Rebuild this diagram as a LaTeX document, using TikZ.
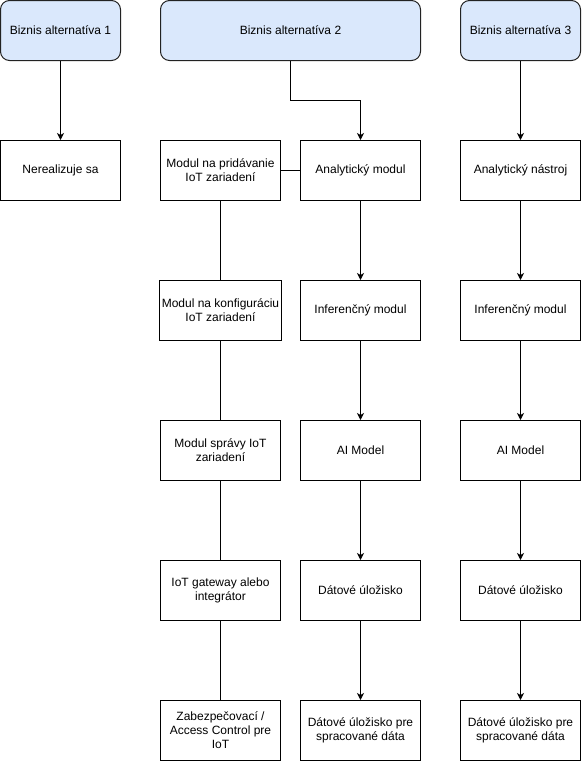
\documentclass[tikz,border=0pt]{standalone}
\usepackage{fontspec}
\setmainfont{Liberation Sans}
\usetikzlibrary{arrows.meta}
\definecolor{hdrfill}{HTML}{DAE8FC}
\definecolor{hdrline}{HTML}{222222}
\begin{document}
\begin{tikzpicture}[x=1pt,y=-1pt,
  every node/.style={font=\fontsize{12}{14}\selectfont, align=center, inner sep=2pt},
  box/.style={draw=black, line width=1pt, fill=white, minimum width=120pt, minimum height=60pt},
  hdr/.style={draw=hdrline, line width=1pt, fill=hdrfill, rounded corners=9pt, minimum height=60pt},
  arr/.style={draw=black, line width=1pt, -{Stealth[length=7pt,width=7pt,inset=2pt]}},
  ln/.style={draw=black, line width=1pt}]
\useasboundingbox (0,0) rectangle (582,761);
% headers
\node[hdr, minimum width=120pt] (h1) at (60.5,30.5) {Biznis alternatíva 1};
\node[hdr, minimum width=260pt] (h2) at (290.5,30.5) {Biznis alternatíva 2};
\node[hdr, minimum width=120pt] (h3) at (520.5,30.5) {Biznis alternatíva 3};
% column 1
\node[box] (n1) at (60.5,170.5) {Nerealizuje sa};
% column 2 left
\node[box] (l1) at (220.5,170.5) {Modul na pridávanie\\IoT zariadení};
\node[box] (l2) at (220.5,310.5) {Modul na konfiguráciu\\IoT zariadení};
\node[box] (l3) at (220.5,450.5) {Modul správy IoT\\zariadení};
\node[box] (l4) at (220.5,590.5) {IoT gateway alebo\\integrátor};
\node[box] (l5) at (220.5,730.5) {Zabezpečovací /\\Access Control pre\\IoT};
% column 2 right
\node[box] (r1) at (360.5,170.5) {Analytický modul};
\node[box] (r2) at (360.5,310.5) {Inferenčný modul};
\node[box] (r3) at (360.5,450.5) {AI Model};
\node[box] (r4) at (360.5,590.5) {Dátové úložisko};
\node[box] (r5) at (360.5,730.5) {Dátové úložisko pre\\spracované dáta};
% column 3
\node[box] (c1) at (520.5,170.5) {Analytický nástroj};
\node[box] (c2) at (520.5,310.5) {Inferenčný modul};
\node[box] (c3) at (520.5,450.5) {AI Model};
\node[box] (c4) at (520.5,590.5) {Dátové úložisko};
\node[box] (c5) at (520.5,730.5) {Dátové úložisko pre\\spracované dáta};
% connectors
\draw[arr] (h1) -- (n1);
\coordinate (b1) at (290.5,100.5);
\coordinate (b2) at (360.5,100.5);
\draw[arr] (h2.south -| b1) -- (b1) -- (b2) -- (r1.north);
\draw[ln] (l1) -- (r1);
\draw[ln] (l1) -- (l2);
\draw[ln] (l2) -- (l3);
\draw[ln] (l3) -- (l4);
\draw[ln] (l4) -- (l5);
\draw[arr] (r1) -- (r2);
\draw[arr] (r2) -- (r3);
\draw[arr] (r3) -- (r4);
\draw[arr] (r4) -- (r5);
\draw[arr] (h3) -- (c1);
\draw[arr] (c1) -- (c2);
\draw[arr] (c2) -- (c3);
\draw[arr] (c3) -- (c4);
\draw[arr] (c4) -- (c5);
\end{tikzpicture}
\end{document}
